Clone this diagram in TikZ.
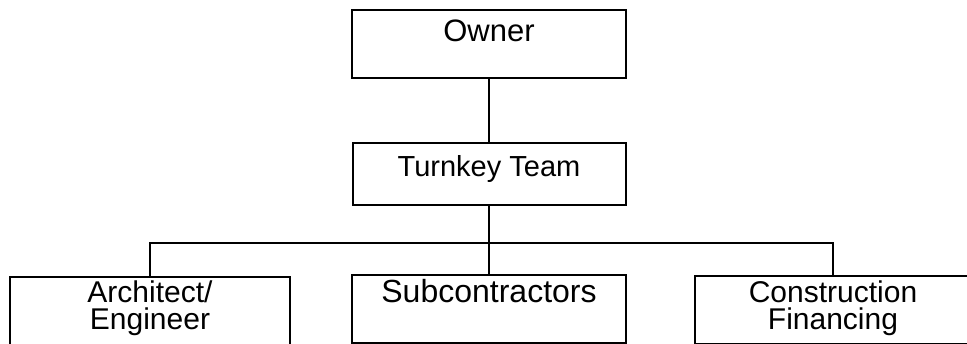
\documentclass[tikz,border=0pt]{standalone}
\usepackage{fontspec}
\setmainfont{Liberation Sans}
\begin{document}
\begin{tikzpicture}[x=1pt,y=-1pt,
  box/.style={draw, line width=2pt, rectangle, inner xsep=0pt, inner ysep=0pt, align=center},
  link/.style={line width=2pt}]
\useasboundingbox (0,0) rectangle (967,344);
\clip (0,0) rectangle (967,344);
\node[box, minimum width=274pt, text height=32pt, text depth=36pt, font=\fontsize{31}{27}\selectfont] (own) at (489,44) {Owner};
\node[box, minimum width=273pt, text height=34pt, text depth=28pt, font=\fontsize{29}{27}\selectfont] (tk) at (489,174) {Turnkey Team};
\node[box, minimum width=274pt, text height=28pt, text depth=40pt, font=\fontsize{32}{27}\selectfont] (sub) at (489,309) {Subcontractors};
\node[box, minimum width=280pt, text height=53pt, text depth=15pt, font=\fontsize{30}{27}\selectfont] (arch) at (150,311) {Architect/\\Engineer};
\node[box, minimum width=276pt, text height=54pt, text depth=14pt, font=\fontsize{30}{27}\selectfont] (fin) at (833,310) {Construction\\Financing};
\coordinate (bus) at (489,243);
\draw[link] (own.south) -- (tk.north);
\draw[link] (tk.south) -- (sub.north);
\draw[link] (arch.north) |- (bus) -| (fin.north);
\end{tikzpicture}
\end{document}
